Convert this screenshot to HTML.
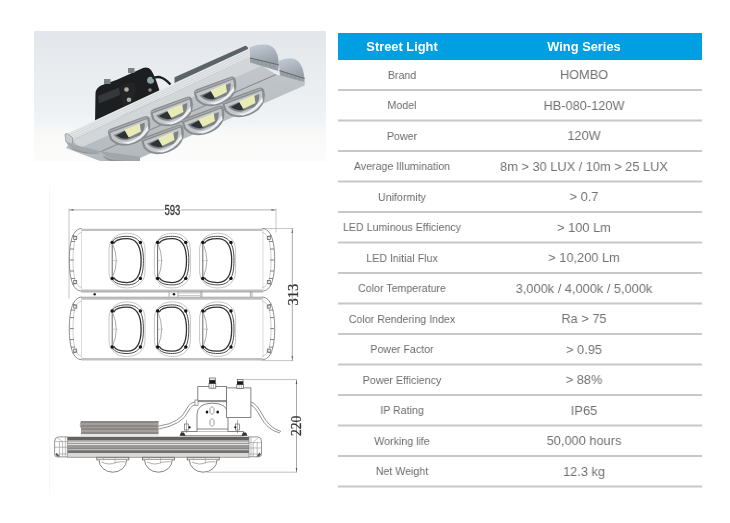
<!DOCTYPE html>
<html><head><meta charset="utf-8"><style>
html,body{margin:0;padding:0;background:#fff;}
body{width:730px;height:523px;position:relative;overflow:hidden;font-family:"Liberation Sans",sans-serif;}
.hdr{position:absolute;background:#009fe2;}
.ht{position:absolute;color:#fff;font-weight:bold;font-size:12.85px;line-height:20px;text-align:center;white-space:nowrap;}
.lb{position:absolute;left:338px;width:128px;text-align:center;font-size:11.5px;line-height:20px;color:#6c6c6c;white-space:nowrap;transform:scaleX(0.925);}
.vl{position:absolute;left:466px;width:236px;text-align:center;font-size:13.3px;line-height:20px;color:#717171;white-space:nowrap;transform:scaleX(0.962);}
.ln{position:absolute;left:338px;width:364px;height:2px;background:#cacaca;}
svg{position:absolute;left:0;top:0;will-change:transform;}
.lb,.vl,.ht{will-change:transform;}
</style></head><body>
<svg width="730" height="523" viewBox="0 0 730 523">
<defs>
<linearGradient id="bg" x1="0" y1="0" x2="0" y2="1">
<stop offset="0" stop-color="#e3e6ea"/>
<stop offset="0.3" stop-color="#e9ecef"/>
<stop offset="0.6" stop-color="#eef1f4"/>
<stop offset="0.71" stop-color="#f1f4f7"/>
<stop offset="0.75" stop-color="#f6f7f7"/>
<stop offset="0.8" stop-color="#f9f9f8"/>
<stop offset="1" stop-color="#fcfcfc"/>
</linearGradient>
<linearGradient id="face" x1="0" y1="0" x2="0.3" y2="1">
<stop offset="0" stop-color="#c9cdd1"/>
<stop offset="1" stop-color="#b3b8bc"/>
</linearGradient>
<linearGradient id="cap" x1="0" y1="0" x2="0.4" y2="1">
<stop offset="0" stop-color="#c4ccd4"/>
<stop offset="0.6" stop-color="#aab3bc"/>
<stop offset="1" stop-color="#98a1a9"/>
</linearGradient>
<g id="lens">
<path d="M-21.5,-6 Q-21.5,-10 -17,-10 L18,-10 Q22.5,-10 22.5,-5.5 L21.5,-1 Q17,12 0,12.5 Q-17,12 -21.8,0 Z" fill="#8a8d8f"/>
<path d="M-19.5,-6 L20,-6.5 Q20,-3 18,1 Q14,10.5 0,11 Q-14.5,10.5 -19.5,0 Z" fill="#c3c7ca"/>
<path d="M-17,-3 L16.5,-4 Q15,3 8,6.5 L-6,6.5 Q-14,4.5 -17,-3 Z" fill="#7d8387"/>
<path d="M-14.5,-1.5 L-4,-3 L-2,5 Q-10,5.5 -14.5,-1.5 Z" fill="#2e3236"/>
<path d="M-5,-4.3 L11.5,-4.8 L10,3.2 L-3.5,4.5 Z" fill="#e8ebb6"/>
<path d="M-13,6 Q2,13.5 18.5,0 L17.5,4.5 Q5,12 -6,10.5 Z" fill="#eef0f1"/>
<path d="M-20.5,-8 L20,-8.3" stroke="#a9acae" stroke-width="1.2"/>
</g>
</defs>
<!-- PHOTO -->
<rect x="34" y="31" width="292" height="130" fill="url(#bg)"/>
<!-- black driver box -->
<path d="M95.5,93 Q96,88 101,85.5 L117.5,79.5 L143,68 Q148,66.5 151,70 Q155,76 158,86 L160,92 L160,104 L95,125 Z" fill="#1c1e20"/>
<path d="M98,96 L119,87.5 L120,95 L99,103.5 Z" fill="#34383b"/>
<path d="M121,86 Q128,80 135,84 Q138,94 131,103 L124,106 Q119,98 121,86 Z" fill="#222527"/>
<circle cx="126.5" cy="89.5" r="2.3" fill="#b3ae9f"/>
<circle cx="129" cy="99.8" r="2.3" fill="#b3ae9f"/>
<circle cx="150" cy="90" r="1.8" fill="#8e8a80"/>
<path d="M104,79 h6.5 v5 h-6.5 Z" fill="#7d8285"/>
<path d="M128,68 h6.5 v5 h-6.5 Z" fill="#7d8285"/>
<circle cx="150.6" cy="80.3" r="3.5" fill="#8aa5a3"/>
<path d="M152.5,78.5 Q156,76.5 160.5,77.3 Q165,78.5 170.5,84.5" stroke="#1c1e20" stroke-width="2.4" fill="none"/>
<!-- face plate -->
<path d="M72,139.2 L249.4,57.6 L276,74.4 L305,81 L304.5,85.5 L140,158 L132,161 L100,161 L66,148 Z" fill="url(#face)"/>
<path d="M72,139.2 L249.4,57.6 L262,65.5 L80,148 Z" fill="#d3d6d9"/>
<!-- right caps -->
<path d="M249.5,47.5 Q258,43.3 268,44.8 Q277.5,47.5 278.6,61 L278.8,64.8 L250,58 Z" fill="url(#cap)"/>
<path d="M250,58 L278.8,64.8 L278.2,71 L250,62.5 Z" fill="#9aa1a6"/>
<path d="M250,58 L278.8,64.8" stroke="#5f666a" stroke-width="1"/>
<path d="M278.6,61 Q286,57.3 294,58.8 Q302.5,62 304,75 L304.6,78.5 L279.5,70.6 Z" fill="url(#cap)"/>
<path d="M279.5,70.6 L304.6,78.5 L304.2,82 L280,75.5 Z" fill="#9aa1a6"/>
<path d="M279.5,70.6 L304.6,78.5" stroke="#5f666a" stroke-width="1"/>
<g stroke="#7d848a" stroke-width="0.5">
<path d="M254,59.5 v3.5 M258,60.5 v3.6 M262,61.4 v3.7 M266,62.3 v3.8 M270,63.2 v3.9 M274,64 v4"/>
<path d="M283,72 v3.4 M287,73.2 v3.5 M291,74.5 v3.5 M295,75.7 v3.6 M299,77 v3.6"/>
</g>
<!-- ribbed band -->
<path d="M65,134.2 L248,48.9 L249.4,57.6 L72,139.2 L72,144 L66,141.8 Z" fill="#e5e7e8"/>
<g stroke="#c2c6c9" stroke-width="0.55" fill="none">
<path d="M66.5,136.2 L248.3,51.1"/>
<path d="M67.5,138 L248.6,53.2"/>
<path d="M68.5,139.8 L248.9,55.3"/>
<path d="M70,141.6 L249.2,57.2"/>
</g>
<path d="M65,134.2 L66.8,133.4 L72.5,137.5 L72.5,144.3 L66,142 Z" fill="#c8ccd0" stroke="#8e9396" stroke-width="0.7"/>
<path d="M174.5,77.3 L245.3,45.8 Q247.8,46 248,48.9 L174.5,83.1 Z" fill="#5a6367"/>
<!-- seam -->
<path d="M276,74.4 L100,152" stroke="#8a9094" stroke-width="1.1"/>
<!-- lower left caps -->
<path d="M66.5,142.5 L72.5,144.3 L100.5,151.3 L99,153.4 Q86,154 76,150.5 Q68.5,147.5 66.5,142.5 Z" fill="#a2a8ac"/>
<path d="M70,147.5 Q80,152.5 99,153.4 L98,154 Q84,154 74,150.5 Z" fill="#8f959a"/>
<path d="M100.5,151.3 L140,156.8 L140,161 L120,161 Q106,158.5 100.5,151.3 Z" fill="#a0a6aa"/>
<path d="M103,155.5 Q110,160 125,161 L110,161 Q104,158.5 103,155.5 Z" fill="#8f959a"/>
<!-- lenses -->
<g transform="translate(130.5,132) rotate(-20)"><use href="#lens"/></g>
<g transform="translate(173,112.5) rotate(-20)"><use href="#lens"/></g>
<g transform="translate(216.5,92.5) rotate(-20)"><use href="#lens"/></g>
<g transform="translate(164,140.5) rotate(-20)"><use href="#lens"/></g>
<g transform="translate(204.5,121.5) rotate(-20)"><use href="#lens"/></g>
<g transform="translate(245,103.5) rotate(-20)"><use href="#lens"/></g>
<!-- TOP VIEW DRAWING -->
<g fill="none" stroke-linecap="round">
<!-- 593 dimension -->
<path d="M69,209.9 H164 M181,209.9 H276" stroke="#b0b0b0" stroke-width="1"/>
<path d="M69,209 V298" stroke="#c4c4c4" stroke-width="1"/>
<path d="M276,209 V232" stroke="#b8b8b8" stroke-width="0.8"/>
<path d="M69.5,209.9 l4,-0.8 v1.6 z M275.5,209.9 l-4,-0.8 v1.6 z" fill="#666" stroke="none"/>
<!-- 313 dimension -->
<path d="M262,228.5 H293 M262,360.6 H293" stroke="#b8b8b8" stroke-width="0.8"/>
<path d="M292.3,228.5 V360.6" stroke="#a8a8a8" stroke-width="1"/>
<path d="M292.3,229 l-0.8,4 h1.6 z M292.3,360 l-0.8,-4 h1.6 z" fill="#666" stroke="none"/>
</g>
<g id="module">
<path d="M81.5,229.9 H262.5 M81.5,290.7 H262.5" stroke="#c0c0c0" stroke-width="2.4" fill="none"/>
<path d="M81.5,228.5 C73.5,229 69.3,240 69.3,260 C69.3,280 73.5,291 81.5,291" stroke="#808080" stroke-width="0.9" fill="none"/>
<path d="M82,232.5 C76,233 73,242 73,260 C73,278 76,287 82,287.5" stroke="#b8b8b8" stroke-width="0.7" fill="none"/>
<path d="M262.5,228.5 C270.5,229 274.7,240 274.7,260 C274.7,280 270.5,291 262.5,291" stroke="#808080" stroke-width="0.9" fill="none"/>
<path d="M262,232.5 C268,233 271,242 271,260 C271,278 268,287 262,287.5" stroke="#b8b8b8" stroke-width="0.7" fill="none"/>
<path d="M263,229 V291 M81.5,229 V291" stroke="#c8c8c8" stroke-width="0.6" fill="none"/>
<g stroke="#666" stroke-width="0.8" fill="none">
<path d="M72.5,235.5 l3.5,1 M71,241.5 h4 M70,249 h4 M69.8,260 h4 M70,271 h4 M71,278.5 h4 M72.5,284.5 l3.5,-1"/>
<path d="M271.5,235.5 l-3.5,1 M273,241.5 h-4 M274,249 h-4 M274.2,260 h-4 M274,271 h-4 M273,278.5 h-4 M271.5,284.5 l-3.5,-1"/>
<rect x="267.3" y="236.5" width="3" height="3"/>
<rect x="267.3" y="280.5" width="3" height="3"/>
<rect x="73.7" y="236.5" width="3" height="3"/>
<rect x="73.7" y="280.5" width="3" height="3"/>
</g>
<g id="lz" transform="translate(127 260.6)">
<rect x="-18" y="-27.3" width="36" height="54.6" rx="17.5" ry="15" stroke="#b8b8b8" stroke-width="0.8" fill="none"/>
<path d="M-14.8,-18.2 C-13,-23.5 -5,-24.3 0,-24.3 C12.5,-24.3 16.4,-16 16.4,0 C16.4,16 12.5,24.3 0,24.3 C-5,24.3 -13,23.5 -14.8,17.8" stroke="#4a4a4a" stroke-width="1" fill="none"/>
<path d="M-13.2,-17 C-11.5,-21 -4,-22 0,-22 C10.5,-22 14.1,-13.5 14.1,0 C14.1,13.5 10.5,22 0,22 C-4,22 -11.5,21 -13.2,17" stroke="#333" stroke-width="1.3" fill="none"/>
<path d="M-14.8,-18 V18" stroke="#555" stroke-width="0.9"/>
<path d="M-14.5,-17 Q-7,0 -14.5,17" stroke="#a0a0a0" stroke-width="0.9" fill="none"/>
<path d="M-14.5,0 h5" stroke="#b0b0b0" stroke-width="0.6"/>
<circle cx="-14.8" cy="-18.2" r="1.7" fill="#111"/>
<circle cx="13.4" cy="-18.2" r="1.7" fill="#111"/>
<circle cx="-14.8" cy="17.8" r="1.7" fill="#111"/>
<circle cx="13.4" cy="17.8" r="1.7" fill="#111"/>
</g>
<use href="#lz" x="45.4"/>
<use href="#lz" x="90.6"/>
</g>
<use href="#module" y="68.6"/>
<!-- connector -->
<g fill="none" stroke-width="0.8">
<path d="M81,292 H263 M81,297.2 H263" stroke="#a0a0a0"/>
<path d="M169,291.5 V297 M178,291.5 V297 M200.8,291.5 V297 M202,291.5 V297 M250.4,291.5 V297 M252,291.5 V297" stroke="#999"/>
<path d="M178,293 H200 M178,295.5 H200" stroke="#bbb"/>
</g>
<circle cx="94.7" cy="294.3" r="1.2" fill="#222"/>
<circle cx="174" cy="294.3" r="1.3" fill="#222"/>
<text x="172.4" y="214.8" font-family="Liberation Sans" font-size="14" fill="#3a3a3a" stroke="#3a3a3a" stroke-width="0.35" text-anchor="middle" transform="translate(172.4 0) scale(0.68 1) translate(-172.4 0)">593</text>
<text font-family="Liberation Serif" font-size="14.5" fill="#333" stroke="#333" stroke-width="0.25" text-anchor="middle" transform="translate(297.6 294.6) rotate(-90)">313</text>
<!-- SIDE VIEW -->
<defs>
<linearGradient id="hs" gradientUnits="userSpaceOnUse" x1="0" y1="421" x2="0" y2="436"><stop offset="0.0000" stop-color="#8b8885"/><stop offset="0.1233" stop-color="#8b8885"/><stop offset="0.1233" stop-color="#a29f9c"/><stop offset="0.2467" stop-color="#a29f9c"/><stop offset="0.2467" stop-color="#8b8885"/><stop offset="0.3700" stop-color="#8b8885"/><stop offset="0.3700" stop-color="#a29f9c"/><stop offset="0.4933" stop-color="#a29f9c"/><stop offset="0.4933" stop-color="#8b8885"/><stop offset="0.6167" stop-color="#8b8885"/><stop offset="0.6167" stop-color="#a29f9c"/><stop offset="0.7400" stop-color="#a29f9c"/><stop offset="0.7400" stop-color="#8b8885"/><stop offset="0.8633" stop-color="#8b8885"/><stop offset="0.8633" stop-color="#a29f9c"/><stop offset="0.8800" stop-color="#a29f9c"/><stop offset="0.8800" stop-color="#e6e6e6"/><stop offset="1" stop-color="#e6e6e6"/></linearGradient>
<linearGradient id="bar" gradientUnits="userSpaceOnUse" x1="0" y1="436.5" x2="0" y2="458"><stop offset="0.0000" stop-color="#b0b0b0"/><stop offset="0.0372" stop-color="#636160"/><stop offset="0.1535" stop-color="#666463"/><stop offset="0.1721" stop-color="#a8a6a5"/><stop offset="0.2279" stop-color="#aaa8a7"/><stop offset="0.2465" stop-color="#dcdcdc"/><stop offset="0.2930" stop-color="#dcdcdc"/><stop offset="0.3070" stop-color="#9a9897"/><stop offset="0.3349" stop-color="#9a9897"/><stop offset="0.3488" stop-color="#e2e2e2"/><stop offset="0.4047" stop-color="#e2e2e2"/><stop offset="0.4186" stop-color="#9c9a99"/><stop offset="0.5163" stop-color="#9a9897"/><stop offset="0.5302" stop-color="#8a8887"/><stop offset="0.5628" stop-color="#8a8887"/><stop offset="0.5767" stop-color="#d2d2d2"/><stop offset="0.6000" stop-color="#d2d2d2"/><stop offset="0.6140" stop-color="#8a8887"/><stop offset="0.6744" stop-color="#8a8887"/><stop offset="0.6837" stop-color="#72706f"/><stop offset="0.7581" stop-color="#72706f"/><stop offset="0.7721" stop-color="#d8d8d8"/><stop offset="1.0000" stop-color="#dadada"/></linearGradient>
</defs>
<rect x="81" y="421" width="77.6" height="15" fill="url(#hs)"/>
<path d="M81,421.5 Q79.5,425 81,428" stroke="#888" stroke-width="0.8" fill="none"/>
<rect x="67.4" y="436.5" width="181.6" height="21.3" fill="url(#bar)"/>
<path d="M67.4,436.7 V457.3 H249 V436.7" stroke="#777" stroke-width="0.6" fill="none"/>
<g fill="none" stroke="#6a6a6a" stroke-width="0.7">
<path d="M67.4,436.9 H58.5 Q54.6,437.2 54.6,441.5 V454.3 Q54.6,456.9 57.2,456.9 H67.4"/>
<path d="M56.5,437.3 L62.6,441.6 V456.8 M59.5,441.6 V456.8 M65.3,437 V457 M54.8,441.6 H67.4 M54.8,447.2 H67.4 M56,454 H67.4" stroke="#8a8a8a" stroke-width="0.55"/>
<path d="M248.8,436.9 H257.8 Q261.5,437.3 261.5,441 V454 Q261.5,456.6 259,456.8 H248.8"/>
<path d="M258.2,437.4 L253.2,442.4 V456.8 M257.2,442.4 V456.8 M251,437 V457 M248.8,442.6 H261.4 M248.8,448 H261.4 M248.8,454 H260.5" stroke="#8a8a8a" stroke-width="0.55"/>
</g>
<path d="M56.5,453 L60,456.5 L57.5,456.6 L55.2,454.5 Z" fill="#555"/>
<path d="M259.5,452.5 L256.5,456.5 L259,456.6 L261,454.5 Z" fill="#555"/>

<g id="dome" fill="none" stroke="#666" stroke-width="0.8">
<rect x="96.8" y="457.3" width="32" height="2.6" fill="#e6e6e6"/>
<path d="M99,460 A13.8,12.2 0 0 0 126.6,460" fill="#fff"/>
<path d="M101.5,462 Q106,464 109,464 Q113,464 116,462.3 M116,462.3 Q121,461.5 125,461.8" stroke="#999"/><path d="M103.2,457.5 V460.2 M115,457.5 V463.5" stroke="#888" stroke-width="0.5"/>
</g>
<use href="#dome" x="45.6"/>
<use href="#dome" x="90.4"/>
<!-- bracket & boxes -->
<g fill="#fff" stroke="#666" stroke-width="0.8">
<path d="M181.5,431.5 H243.5 V435.7 H181.5 Z"/>
<path d="M197,431.5 V415 Q197,403.2 212.5,403.2 Q228,403.2 228,415 V431.5"/>
<path d="M197,429 H228"/>
<rect x="226.6" y="387.9" width="24.3" height="29.6"/>
<rect x="197.8" y="386.6" width="28.8" height="15.1"/>
<path d="M197.8,400.6 H226.6"/>
</g>
<g fill="#fff" stroke="#555" stroke-width="0.7">
<rect x="209" y="383.6" width="6.8" height="4.6" />
<rect x="209.5" y="378" width="5.8" height="2.2"/>
<rect x="236.8" y="384.6" width="6.8" height="3.8"/>
<rect x="237.3" y="379.4" width="5.8" height="2.1"/>
</g>
<rect x="209.2" y="380.2" width="6.4" height="3.4" fill="#1a1a1a"/>
<rect x="237" y="381.5" width="6.4" height="3.1" fill="#1a1a1a"/>
<path d="M211.3,384 V388 M213.5,384 V388 M239.1,385 V388.4 M241.3,385 V388.4" stroke="#777" stroke-width="0.5"/>
<ellipse cx="207" cy="412" rx="1.3" ry="1.6" fill="#111"/>
<ellipse cx="217.7" cy="412" rx="1.3" ry="1.6" fill="#111"/>
<path d="M210,408.5 L212,406.5 L214,408.5 V412.5 L212,414.5 L210,412.5 Z M210,420.5 L212,418.5 L214,420.5 V424.5 L212,426.5 L210,424.5 Z" fill="none" stroke="#555" stroke-width="0.6"/>
<g fill="#fff" stroke="#555" stroke-width="0.6">
<rect x="184.5" y="424" width="4" height="6"/>
<rect x="235.5" y="424" width="4" height="6"/>
</g>
<circle cx="189.6" cy="427.3" r="1.1" fill="#111"/>
<circle cx="235.3" cy="427.3" r="1.1" fill="#111"/>
<path d="M186.5,420 V433 M237.5,420 V433" stroke="#666" stroke-width="0.5"/>
<path d="M179.5,435.7 L181,432.5 H184 L185.5,435.7 Z M241.5,435.7 L243,432.5 H246 L247.5,435.7 Z" fill="#333"/>
<!-- cables -->
<path d="M197.8,402 Q190,401 186,410 Q180,423 159,426 M197.8,404.5 Q192,404 188.5,411 Q182,425 159,429" fill="none" stroke="#666" stroke-width="0.7"/>
<path d="M250.9,402 Q256,403 262,414 Q269,428 281,431.5 M250.9,405 Q254.5,406 260,416 Q267,430 280,433" fill="none" stroke="#666" stroke-width="0.7"/>
<rect x="195" y="400" width="3" height="5.5" fill="#fff" stroke="#666" stroke-width="0.6"/>
<!-- 220 dim -->
<path d="M243.7,379.6 H297 M207,472.2 H297" stroke="#b0b0b0" stroke-width="0.8" fill="none"/>
<path d="M296.5,379.6 V472.2" stroke="#a0a0a0" stroke-width="0.9" fill="none"/>
<path d="M296.5,380 l-0.8,4 h1.6 z M296.5,472 l-0.8,-4 h1.6 z" fill="#555"/>
<text font-family="Liberation Serif" font-size="13.6" fill="#333" stroke="#333" stroke-width="0.25" text-anchor="middle" transform="translate(300.9 425.8) rotate(-90)">220</text>
<path d="M49.5,185 V495" stroke="#f6f6f6" stroke-width="0.8"/>
</svg>

<svg width="730" height="523" style="position:absolute;left:0;top:0"><g fill="#c8c8c8"><rect x="338" y="89.0" width="364" height="2"/><rect x="338" y="119.5" width="364" height="2"/><rect x="338" y="150.0" width="364" height="2"/><rect x="338" y="180.5" width="364" height="2"/><rect x="338" y="211.0" width="364" height="2"/><rect x="338" y="241.5" width="364" height="2"/><rect x="338" y="272.0" width="364" height="2"/><rect x="338" y="302.5" width="364" height="2"/><rect x="338" y="333.0" width="364" height="2"/><rect x="338" y="363.5" width="364" height="2"/><rect x="338" y="394.0" width="364" height="2"/><rect x="338" y="424.5" width="364" height="2"/><rect x="338" y="455.0" width="364" height="2"/><rect x="338" y="485.5" width="364" height="2"/></g></svg>
<div class="hdr" style="left:338px;top:33px;width:364px;height:27px"></div>
<div class="ht" style="left:338px;top:36.75px;width:128px">Street Light</div>
<div class="ht" style="left:466px;top:36.75px;width:236px">Wing Series</div>
<div class="lb" style="top:64.72px">Brand</div>
<div class="vl" style="top:65.29px">HOMBO</div>
<div class="lb" style="top:95.22px">Model</div>
<div class="vl" style="top:95.79px">HB-080-120W</div>
<div class="lb" style="top:125.72px">Power</div>
<div class="vl" style="top:126.29px">120W</div>
<div class="lb" style="top:156.22px">Average Illumination</div>
<div class="vl" style="top:156.79px">8m &gt; 30 LUX / 10m &gt; 25 LUX</div>
<div class="lb" style="top:186.72px">Uniformity</div>
<div class="vl" style="top:187.29px">&gt; 0.7</div>
<div class="lb" style="top:217.22px">LED Luminous Efficiency</div>
<div class="vl" style="top:217.79px">&gt; 100 Lm</div>
<div class="lb" style="top:247.72px">LED Initial Flux</div>
<div class="vl" style="top:248.29px">&gt; 10,200 Lm</div>
<div class="lb" style="top:278.22px">Color Temperature</div>
<div class="vl" style="top:278.79px">3,000k / 4,000k / 5,000k</div>
<div class="lb" style="top:308.72px">Color Rendering Index</div>
<div class="vl" style="top:309.29px">Ra &gt; 75</div>
<div class="lb" style="top:339.22px">Power Factor</div>
<div class="vl" style="top:339.79px">&gt; 0.95</div>
<div class="lb" style="top:369.72px">Power Efficiency</div>
<div class="vl" style="top:370.29px">&gt; 88%</div>
<div class="lb" style="top:400.22px">IP Rating</div>
<div class="vl" style="top:400.79px">IP65</div>
<div class="lb" style="top:430.72px">Working life</div>
<div class="vl" style="top:431.29px">50,000 hours</div>
<div class="lb" style="top:461.22px">Net Weight</div>
<div class="vl" style="top:461.79px">12.3 kg</div>
</body></html>
